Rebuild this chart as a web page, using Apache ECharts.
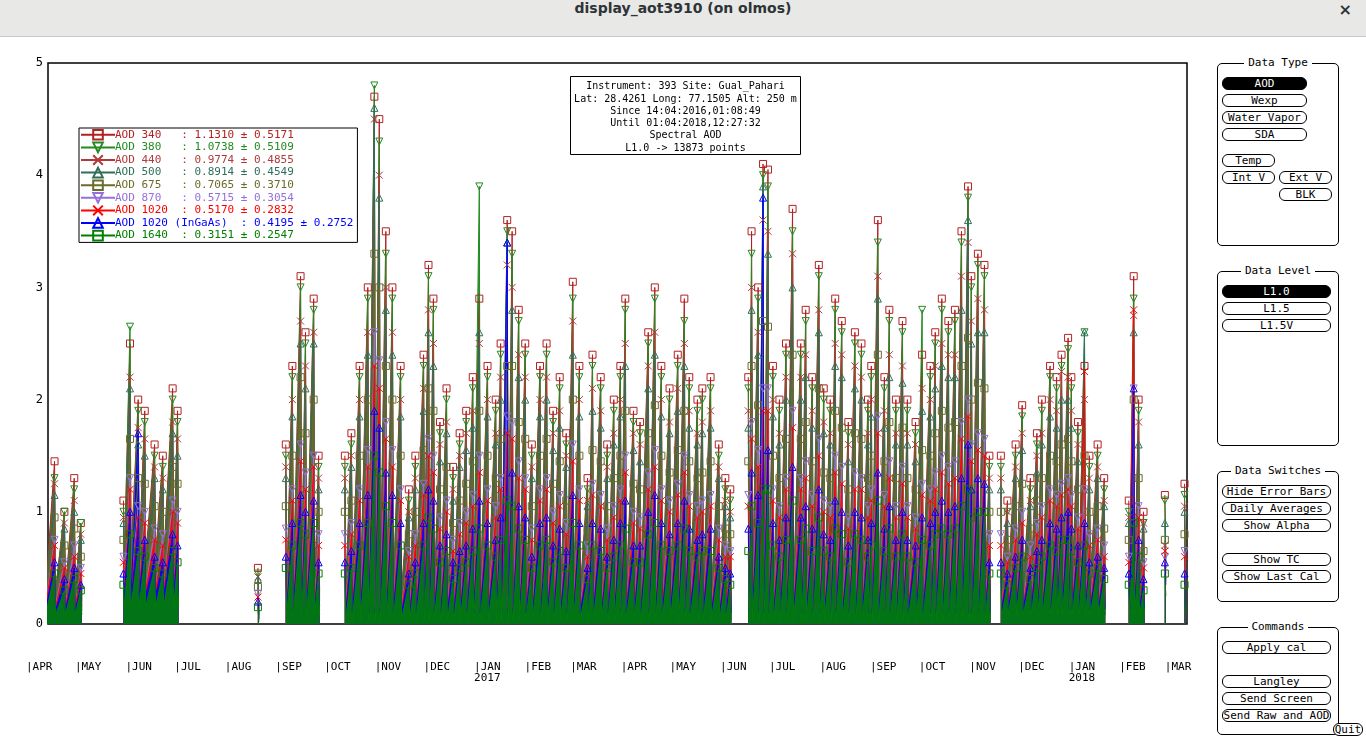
<!DOCTYPE html>
<html><head><meta charset="utf-8">
<script src="https://cdn.jsdelivr.net/npm/echarts@6/dist/echarts.min.js"></script>
<style>
body{margin:0;width:1366px;height:741px;overflow:hidden;background:#fff;font-family:"DejaVu Sans Mono",monospace;position:relative}
#bar{position:absolute;left:0;top:0;width:1366px;height:36px;background:#e8e8e7;border-bottom:1px solid #c8c8c8;text-align:center;line-height:36px;font:bold 14px "DejaVu Sans",sans-serif;color:#2e3436}
#x{position:absolute;right:14px;top:0;font:bold 16px "DejaVu Sans";}
#chart{position:absolute;left:0;top:37px;width:1210px;height:704px}
.pan{position:absolute;left:1217px;width:120px;border:1px solid #000;border-radius:5px}
.pt{position:absolute;top:-8px;left:0;width:100%;text-align:center;font-size:11px}
.pt span{background:#fff;padding:0 4px}
.b{position:absolute;height:11px;border:1px solid #000;border-radius:6px;font-size:11px;line-height:11px;text-align:center;background:#fff}
.on{background:#000;color:#fff}
</style></head><body>
<div id="bar">display_aot3910 (on olmos)<span id="x">×</span></div>
<div id="chart"></div>
<div class="pan" style="top:63px;height:181px"><div class="pt"><span>Data Type</span></div>
 <div class="b on" style="left:4px;top:13px;width:83px">AOD</div>
 <div class="b" style="left:4px;top:30px;width:83px">Wexp</div>
 <div class="b" style="left:4px;top:47px;width:83px">Water Vapor</div>
 <div class="b" style="left:4px;top:64px;width:83px">SDA</div>
 <div class="b" style="left:4px;top:90px;width:51px">Temp</div>
 <div class="b" style="left:4px;top:107px;width:51px">Int V</div>
 <div class="b" style="left:61px;top:107px;width:51px">Ext V</div>
 <div class="b" style="left:61px;top:124px;width:51px">BLK</div>
</div>
<div class="pan" style="top:271px;height:173px"><div class="pt"><span>Data Level</span></div>
 <div class="b on" style="left:4px;top:13px;width:107px">L1.0</div>
 <div class="b" style="left:4px;top:30px;width:107px">L1.5</div>
 <div class="b" style="left:4px;top:47px;width:107px">L1.5V</div>
</div>
<div class="pan" style="top:471px;height:129px"><div class="pt"><span>Data Switches</span></div>
 <div class="b" style="left:4px;top:13px;width:107px">Hide Error Bars</div>
 <div class="b" style="left:4px;top:30px;width:107px">Daily Averages</div>
 <div class="b" style="left:4px;top:47px;width:107px">Show Alpha</div>
 <div class="b" style="left:4px;top:81px;width:107px">Show TC</div>
 <div class="b" style="left:4px;top:98px;width:107px">Show Last Cal</div>
</div>
<div class="pan" style="top:627px;height:106px"><div class="pt"><span>Commands</span></div>
 <div class="b" style="left:4px;top:13px;width:107px">Apply cal</div>
 <div class="b" style="left:4px;top:47px;width:107px">Langley</div>
 <div class="b" style="left:4px;top:64px;width:107px">Send Screen</div>
 <div class="b" style="left:4px;top:81px;width:107px">Send Raw and AOD</div>
</div>
<div class="b" style="left:1333px;top:723px;width:28px">Quit</div>
<script>
// sample days since 2016-04-01, grouped by measurement period
const segDays = [
 [12,18,24,30,34],
 [60,64,69,73,79,84,90,93],
 [142],
 [159,163,168,171,176,179],
 [195,199,204,209,213,216,220,224,229,234,238,243,246,249,253,257,261,265,269,273,277,282,287,290,294,297,301,305,309,314,318,322,326,330,334,338,343,346,351,355,359,363,366,371,375,380,384,388,393,398,402,405,410,413,418,423,427,430],
 [441,443,447,450,453,456,460,464,468,473,476,480,484,487,491,494,498,502,506,510,514,516,520,524,527,531,535,538,543,547,552,555,559,563,567,571,575,577,581,585,588],
 [595,599,604,608,613,617,620,625,629,632,636,638,642,646,649,654,658],
 [673,676,679,682],
 [695],
 [707]
];
const names = ['AOD 340','AOD 380','AOD 440','AOD 500','AOD 675','AOD 870','AOD 1020','AOD 1020 (InGaAs)','AOD 1640'];
const stats = ['   : 1.1310 ± 0.5171','   : 1.0738 ± 0.5109','   : 0.9774 ± 0.4855','   : 0.8914 ± 0.4549','   : 0.7065 ± 0.3710','   : 0.5715 ± 0.3054','  : 0.5170 ± 0.2832','  : 0.4195 ± 0.2752','  : 0.3151 ± 0.2547'];
const hi340=[1.1,1.45,1.0,1.3,0.9, 1.1,2.5,2.0,1.9,1.6,1.5,2.1,1.9, 0.5, 1.6,2.3,3.1,2.6,2.9,1.5,
1.5,1.7,2.3,3.0,4.7,4.5,3.5,3.0,2.3,1.2,1.5,2.4,3.2,2.9,1.8,2.1,1.4,1.7,1.9,2.2,2.9,2.3,2.0,2.5,3.6,3.5,2.8,2.5,1.6,2.3,2.5,1.9,2.2,1.7,3.05,2.3,1.3,2.4,2.2,1.6,2.0,2.3,2.9,1.9,1.8,2.6,3.0,2.3,2.1,2.4,2.9,2.2,2.0,2.1,2.2,1.6,1.3,1.2,
2.2,3.5,3.0,4.1,4.05,2.3,2.0,2.5,3.7,2.5,2.8,2.2,3.2,2.1,2.0,2.9,2.7,1.8,2.6,2.5,2.0,2.3,3.6,2.2,2.8,2.0,2.7,2.0,1.8,2.4,2.3,2.6,2.9,2.7,2.8,3.5,3.9,3.1,3.3,3.2,1.5,
1.5,1.1,1.6,1.95,1.3,1.7,2.0,2.3,2.2,2.4,2.55,2.2,1.8,2.3,1.5,1.6,1.3, 1.1,3.1,2.0,1.0, 1.15, 1.25];
const hi380=[1.0,1.3,1.0,1.2,0.9, 1.0,2.65,1.9,1.8,1.5,1.4,2.0,1.8, 0.45, 1.5,2.2,3.0,2.5,2.8,1.4,
1.4,1.6,2.2,2.9,4.8,4.3,3.3,2.9,2.2,1.1,1.4,2.3,3.1,2.8,1.7,2.0,1.3,1.6,1.8,2.1,3.9,2.2,1.9,2.4,3.5,3.3,2.7,2.4,1.5,2.2,2.4,1.8,2.1,1.6,2.9,2.2,1.2,2.3,2.1,1.5,1.9,2.2,2.8,1.8,1.7,2.5,2.9,2.2,2.0,2.3,2.7,2.1,1.9,2.0,2.1,1.5,1.2,1.1,
2.1,3.3,2.9,4.0,3.9,2.2,1.9,2.4,3.5,2.4,2.7,2.1,3.1,2.0,1.9,2.8,2.6,1.7,2.5,2.4,1.9,2.2,3.4,2.1,2.7,1.9,2.6,1.9,1.7,2.8,2.2,2.5,2.8,2.6,2.7,3.4,3.8,3.0,3.2,3.1,1.4,
1.4,1.0,1.5,1.85,1.2,1.6,1.9,2.2,2.1,2.3,2.45,2.1,1.7,2.6,1.4,1.5,1.2, 1.0,2.9,1.9,0.9, 1.1, 1.15];
const hi440=[0.95,1.25,0.9,1.1,0.8, 0.95,2.2,1.75,1.65,1.4,1.3,1.8,1.65, 0.42, 1.4,2.0,2.7,2.3,2.6,1.3,
1.3,1.5,2.0,2.6,4.5,4.0,3.0,2.6,2.0,1.0,1.3,2.1,2.8,2.5,1.6,1.8,1.2,1.5,1.7,1.9,2.5,2.0,1.7,2.2,3.2,3.0,2.4,2.2,1.4,2.0,2.2,1.7,1.9,1.5,2.7,2.0,1.1,2.1,1.9,1.4,1.7,2.0,2.5,1.7,1.6,2.3,2.6,2.0,1.8,2.1,2.5,1.9,1.7,1.8,1.9,1.4,1.1,1.0,
1.9,3.0,2.6,3.6,3.5,2.0,1.7,2.2,3.3,2.2,2.4,1.9,2.8,1.8,1.7,2.5,2.4,1.6,2.3,2.2,1.7,2.0,3.1,1.9,2.4,1.7,2.3,1.7,1.6,2.1,2.0,2.3,2.5,2.4,2.4,3.1,3.4,2.7,2.9,2.8,1.3,
1.3,1.0,1.4,1.7,1.1,1.5,1.7,2.0,1.9,2.25,2.2,1.9,1.6,2.0,1.3,1.4,1.1, 0.95,2.75,1.8,0.9, 0.7, 1.05];
const hi500=[0.9,1.15,0.85,1.0,0.75, 0.9,2.1,1.6,1.5,1.3,1.2,1.7,1.5, 0.4, 1.3,1.85,2.5,2.1,2.5,1.2,
1.2,1.4,1.85,2.4,4.6,3.8,2.8,2.4,1.85,0.95,1.2,1.9,2.6,2.3,1.45,1.7,1.1,1.4,1.55,1.75,2.6,1.85,1.6,2.0,3.4,2.8,2.2,2.0,1.3,1.85,2.0,1.55,1.75,1.4,2.4,1.85,1.05,1.9,1.75,1.3,1.6,1.85,2.3,1.55,1.45,2.1,2.4,1.85,1.7,1.9,2.3,1.75,1.6,1.7,1.75,1.3,1.05,0.95,
1.75,2.8,2.4,3.9,3.3,1.85,1.6,2.0,3.0,2.0,2.2,1.75,2.6,1.7,1.6,2.3,2.2,1.45,2.1,2.0,1.6,1.85,2.9,1.75,2.2,1.6,2.15,1.6,1.45,1.9,1.85,2.1,2.3,2.2,2.2,2.8,3.6,2.5,2.6,2.6,1.2,
1.2,0.9,1.3,1.55,1.05,1.35,1.6,1.85,1.75,2.0,2.0,1.75,1.45,2.6,1.2,1.3,1.05, 0.9,2.6,1.6,0.85, 0.9, 1.0];
const hi675=[0.75,0.95,0.7,0.85,0.6, 0.75,1.65,1.3,1.25,1.05,1.0,1.4,1.25, 0.33, 1.05,1.5,2.2,1.7,2.0,1.0,
1.0,1.1,1.5,2.0,3.3,3.0,2.3,2.0,1.5,0.8,1.0,1.55,2.1,1.9,1.2,1.4,0.9,1.1,1.25,1.45,1.9,1.5,1.3,1.65,2.3,2.3,1.8,1.65,1.05,1.5,1.65,1.25,1.45,1.1,2.0,1.5,0.85,1.55,1.45,1.05,1.3,1.5,1.9,1.25,1.2,1.7,1.95,1.5,1.35,1.55,1.9,1.45,1.3,1.35,1.45,1.05,0.85,0.8,
1.45,2.3,1.95,2.7,2.65,1.5,1.3,1.65,2.4,1.65,1.8,1.45,2.1,1.35,1.3,1.9,1.75,1.2,1.7,1.65,1.3,1.5,2.4,1.45,1.8,1.3,1.75,1.3,1.2,1.55,1.5,1.7,1.9,1.75,1.8,2.3,2.55,2.0,2.15,2.1,1.0,
1.0,0.75,1.05,1.25,0.85,1.1,1.3,1.5,1.45,1.6,1.65,1.45,1.2,1.5,1.0,1.05,0.85, 0.75,2.0,1.3,0.65, 0.75, 0.8];
const hi870=[0.6,0.75,0.55,0.7,0.5, 0.6,1.3,1.05,1.0,0.85,0.8,1.1,1.0, 0.27, 0.85,1.2,1.6,1.35,1.5,0.8,
0.8,0.9,1.2,1.55,2.6,2.35,1.8,1.55,1.2,0.65,0.8,1.25,1.65,1.5,0.95,1.1,0.75,0.9,1.0,1.15,1.5,1.2,1.05,1.3,1.85,1.8,1.45,1.3,0.85,1.2,1.3,1.0,1.15,0.9,1.6,1.2,0.7,1.25,1.15,0.85,1.05,1.2,1.5,1.0,0.95,1.35,1.55,1.2,1.1,1.25,1.5,1.15,1.05,1.1,1.15,0.85,0.7,0.65,
1.15,1.8,1.55,2.1,2.1,1.2,1.05,1.3,1.9,1.3,1.45,1.15,1.65,1.1,1.05,1.5,1.4,0.95,1.35,1.3,1.05,1.2,1.85,1.15,1.45,1.05,1.4,1.05,0.95,1.25,1.2,1.35,1.5,1.4,1.45,1.8,2.0,1.6,1.7,1.65,0.8,
0.8,0.6,0.85,1.0,0.7,0.9,1.05,1.2,1.15,1.25,1.3,1.15,0.95,1.2,0.8,0.85,0.7, 0.6,2.1,1.05,0.55, 0.6, 0.65];
const hi1020=[0.55,0.7,0.5,0.6,0.45, 0.55,1.2,0.95,0.9,0.75,0.7,1.0,0.9, 0.24, 0.75,1.1,1.45,1.2,1.4,0.7,
0.7,0.8,1.1,1.4,2.3,2.1,1.65,1.4,1.1,0.6,0.7,1.15,1.5,1.35,0.85,1.0,0.65,0.8,0.9,1.05,1.35,1.1,0.95,1.2,1.7,1.65,1.3,1.2,0.75,1.1,1.2,0.9,1.05,0.8,1.45,1.1,0.6,1.15,1.05,0.75,0.95,1.1,1.35,0.9,0.85,1.2,1.4,1.1,1.0,1.15,1.35,1.05,0.95,1.0,1.05,0.75,0.6,0.6,
1.05,1.65,1.4,1.9,1.9,1.1,0.95,1.2,1.75,1.2,1.3,1.05,1.5,1.0,0.95,1.35,1.25,0.85,1.2,1.2,0.95,1.1,1.7,1.05,1.3,0.95,1.25,0.95,0.85,1.15,1.1,1.2,1.35,1.25,1.3,1.65,1.85,1.45,1.55,1.5,0.7,
0.7,0.55,0.75,0.9,0.6,0.8,0.95,1.1,1.05,1.15,1.2,1.05,0.85,2.25,0.7,0.75,0.6, 0.55,2.8,0.95,0.5, 0.65, 0.6];
const hiIGA=[0.45,0.55,0.4,0.5,0.35, 0.45,1.0,1.7,0.75,0.6,0.55,0.8,0.7, 0.2, 0.6,0.9,1.15,1.0,1.1,0.55,
0.55,0.65,0.9,1.15,1.9,1.75,1.35,1.15,0.9,0.45,0.55,0.9,1.2,1.1,0.7,0.8,0.55,0.65,0.7,0.85,1.1,0.9,0.75,0.95,3.4,1.35,1.05,0.95,0.6,0.9,0.95,0.7,0.85,0.65,1.15,0.9,0.5,0.9,0.85,0.6,0.75,0.9,1.1,0.7,0.7,1.0,1.15,0.9,0.8,0.9,1.1,0.85,0.75,0.8,0.85,0.6,0.5,0.45,
0.85,1.35,1.15,3.8,1.55,0.9,0.75,0.95,1.4,0.95,1.05,0.85,1.2,0.8,0.75,1.1,1.0,0.7,1.0,0.95,0.75,0.9,1.35,0.85,1.05,0.75,1.0,0.75,0.7,0.95,0.9,1.0,1.1,1.0,1.05,1.3,1.6,1.2,1.3,1.25,0.55,
0.55,0.45,0.6,0.75,0.5,0.65,0.75,0.9,0.85,0.95,1.0,0.85,0.7,0.9,0.55,0.6,0.5, 0.45,2.1,0.75,0.4, 0.55, 0.45];
const hi1640=[0.35,0.45,0.3,0.4,0.3, 0.35,0.8,0.65,0.6,0.5,0.45,0.65,0.55, 0.15, 0.5,0.7,0.9,0.8,0.9,0.45,
0.45,0.5,0.7,0.9,1.5,1.35,1.05,0.9,0.7,0.35,0.45,0.7,0.95,0.85,0.55,0.65,0.4,0.5,0.55,0.65,0.85,0.7,0.6,0.75,1.1,1.05,0.85,0.75,0.5,0.7,0.75,0.55,0.65,0.5,0.9,0.7,0.4,0.7,0.65,0.5,0.6,0.7,0.85,0.55,0.55,0.8,0.9,0.7,0.65,0.7,0.85,0.65,0.6,0.65,0.65,0.5,0.4,0.35,
0.65,1.05,0.9,1.2,1.2,0.7,0.6,0.75,1.1,0.75,0.85,0.65,0.95,0.65,0.6,0.85,0.8,0.55,0.8,0.75,0.6,0.7,1.1,0.65,0.85,0.6,0.8,0.6,0.55,0.75,0.7,0.8,0.85,0.8,0.85,1.05,1.2,0.95,1.0,1.0,0.45,
0.45,0.35,0.5,0.6,0.4,0.5,0.6,0.7,0.65,0.75,0.75,0.65,0.55,0.7,0.45,0.5,0.4, 0.35,0.9,0.6,0.3, 0.45, 0.35];
// per-period low values for each wavelength
const lo340=[0.3,0.6,0.1,0.3,0.3,0.3,0.4,0.4,0.6,0.3];
const lo380=[0.28,0.55,0.1,0.28,0.28,0.28,0.35,0.35,0.55,0.28];
const lo440=[0.25,0.5,0.09,0.25,0.25,0.25,0.3,0.3,0.5,0.25];
const lo500=[0.22,0.45,0.08,0.22,0.22,0.22,0.28,0.28,0.5,0.22];
const lo675=[0.2,0.4,0.07,0.2,0.18,0.18,0.22,0.22,0.45,0.2];
const lo870=[0.17,0.32,0.06,0.16,0.15,0.15,0.18,0.18,0.4,0.17];
const lo1020=[0.15,0.3,0.05,0.15,0.13,0.13,0.16,0.16,0.38,0.15];
const loIGA=[0.12,0.25,0.04,0.12,0.1,0.1,0.13,0.13,0.35,0.12];
const lo1640=[0.08,0.15,0.02,0.08,0.04,0.04,0.08,0.08,0.25,0.1];
const yTicks=[0,1,2,3,4,5];
const monthLabels=['APR','MAY','JUN','JUL','AUG','SEP','OCT','NOV','DEC','JAN','FEB','MAR'];

const DAY=86400000, T0=Date.UTC(2016,3,1);
const highs=[hi340,hi380,hi440,hi500,hi675,hi870,hi1020,hiIGA,hi1640];
const lows=[lo340,lo380,lo440,lo500,lo675,lo870,lo1020,loIGA,lo1640];
const colors=['#b22222','#228b22','#b03a3a','#2f6f5a','#6b6b2a','#9370db','#ff0000','#0000ff','#008000'];
const DOWN='path://M0,0L10,0L5,10Z', XS='path://M0,0L10,10M10,0L0,10';
const syms=['rect',DOWN,XS,'triangle','rect',DOWN,XS,'triangle','rect'];
function build(k){
  const out=[]; let i=0;
  segDays.forEach((seg,s)=>{
    seg.forEach(d=>{ const t=T0+d*DAY; out.push([t,highs[k][i]]); out.push({value:[t+DAY*0.6,lows[k][s]],symbol:'none'}); i++; });
    out.push([T0+(seg[seg.length-1]+1)*DAY,null]);
  });
  return out;
}
const series=names.map((n,k)=>({
  name:n,type:'line',data:build(k),symbol:syms[k],symbolSize:7,connectNulls:false,
  lineStyle:{color:colors[k],width:1},
  areaStyle:{color:colors[k],opacity:0.9,origin:'start'},
  itemStyle:{color:'rgba(0,0,0,0)',borderColor:colors[k],borderWidth:1},
  emphasis:{disabled:true},animation:false
}));
const chart=echarts.init(document.getElementById('chart'));
const F='"DejaVu Sans Mono",monospace';
chart.setOption({
  animation:false,
  grid:[{left:48,top:26,right:23,bottom:117,show:true,borderColor:'#000',borderWidth:1.5},
        {left:26,top:26,right:23,bottom:117,show:false}],
  xAxis:[{type:'time',gridIndex:0,min:T0+14*DAY,max:T0+708.5*DAY,axisLine:{show:false},axisTick:{show:false},axisLabel:{show:false},splitLine:{show:false}},
         {type:'time',gridIndex:1,min:T0,max:T0+712.6*DAY,minInterval:28*DAY,maxInterval:31*DAY,
          axisLine:{show:false},axisTick:{show:false},splitLine:{show:false},
          axisLabel:{margin:38,align:'left',hideOverlap:false,showMinLabel:true,showMaxLabel:false,fontFamily:F,fontSize:11,color:'#000',
            formatter:v=>{const d=new Date(v);const m=d.getUTCMonth();return '|'+monthLabels[(m+9)%12]+(m===0?'\n'+d.getUTCFullYear():'');}}}],
  yAxis:[{type:'value',gridIndex:0,min:0,max:5,interval:1,axisLine:{show:false},axisTick:{show:false},splitLine:{show:false},
          axisLabel:{fontFamily:F,fontSize:12,color:'#000',margin:5,formatter:v=>yTicks.includes(v)?String(v):''}},
         {type:'value',gridIndex:1,show:false,min:0,max:5}],
  legend:{orient:'vertical',left:79,top:91,itemGap:1,itemWidth:34,itemHeight:12,padding:[1,4,1,1],
    backgroundColor:'#fff',borderColor:'#000',borderWidth:1,
    data:names.map((n,k)=>({name:n,textStyle:{color:colors[k]},itemStyle:{color:'rgba(0,0,0,0)'}})),
    formatter:n=>n+stats[names.indexOf(n)],textStyle:{fontFamily:F,fontSize:11,padding:[0,0,0,-5]}},
  graphic:[{type:'group',left:570,top:39,z:100,children:[
    {type:'rect',shape:{x:0,y:0,width:230,height:78},style:{fill:'#fff',stroke:'#000',lineWidth:1}},
    {type:'text',x:115,y:4,style:{text:'Instrument: 393 Site: Gual_Pahari\nLat: 28.4261 Long: 77.1505 Alt: 250 m\nSince 14:04:2016,01:08:49\nUntil 01:04:2018,12:27:32\nSpectral AOD\nL1.0 -> 13873 points',
      align:'center',font:'10px "DejaVu Sans Mono"',lineHeight:12.3,fill:'#000'}}]}],
  series:series
});
</script></body></html>
